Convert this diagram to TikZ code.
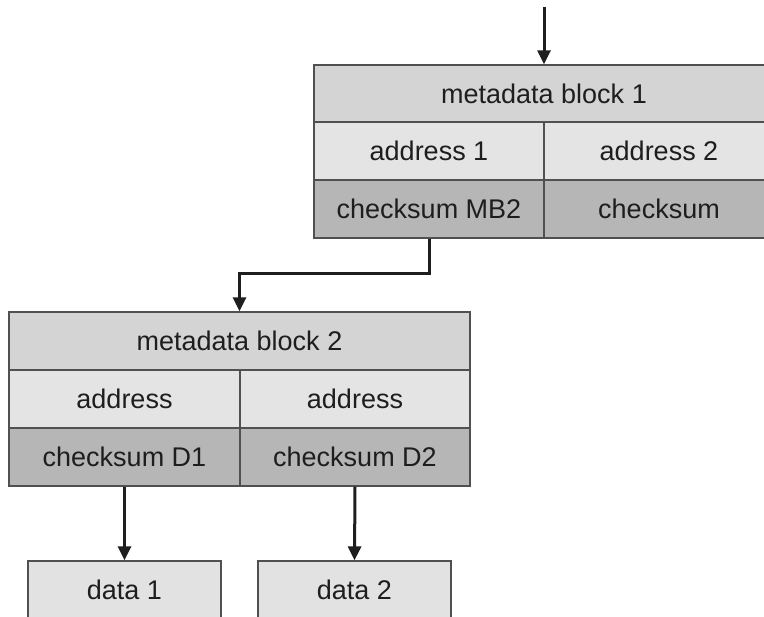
\documentclass[tikz,border=0pt]{standalone}
\usepackage{fontspec}
\setmainfont{Liberation Sans}
\usetikzlibrary{arrows.meta}
\definecolor{hdr}{HTML}{D4D4D4}
\definecolor{adr}{HTML}{E4E4E4}
\definecolor{chk}{HTML}{B6B6B6}
\definecolor{dat}{HTML}{E2E2E2}
\definecolor{edge}{HTML}{505050}
\definecolor{ink}{HTML}{1E1E1E}
\tikzset{
  cell/.style={draw=edge, line width=1.3pt, inner sep=0pt, text=ink,
    font=\fontsize{27}{32}\selectfont, anchor=center},
  hdrcell/.style={cell, fill=hdr},
  adrcell/.style={cell, fill=adr},
  chkcell/.style={cell, fill=chk},
  datcell/.style={cell, fill=dat},
  conn/.style={draw=ink, line width=3pt, -{Triangle[length=14pt,width=13pt]}},
}
\begin{document}
\begin{tikzpicture}[x=1pt, y=-1pt]
\useasboundingbox (0,0) rectangle (764,617);
% metadata block 1
\node[hdrcell, minimum width=460pt, minimum height=57pt] (b1h) at (544,93.5) {metadata block 1};
\node[adrcell, minimum width=230pt, minimum height=58pt] (b1a1) at (429,151) {address 1};
\node[adrcell, minimum width=230pt, minimum height=58pt] (b1a2) at (659,151) {address 2};
\node[chkcell, minimum width=230pt, minimum height=58pt] (b1c1) at (429,209) {checksum MB2};
\node[chkcell, minimum width=230pt, minimum height=58pt] (b1c2) at (659,209) {checksum};
% metadata block 2
\node[hdrcell, minimum width=461pt, minimum height=58pt] (b2h) at (239.5,341) {metadata block 2};
\node[adrcell, minimum width=231pt, minimum height=58pt] (b2a1) at (124.5,399) {address};
\node[adrcell, minimum width=230pt, minimum height=58pt] (b2a2) at (355,399) {address};
\node[chkcell, minimum width=231pt, minimum height=58pt] (b2c1) at (124.5,457) {checksum D1};
\node[chkcell, minimum width=230pt, minimum height=58pt] (b2c2) at (355,457) {checksum D2};
% data blocks
\node[datcell, minimum width=193pt, minimum height=58pt] (d1) at (124.5,590) {data 1};
\node[datcell, minimum width=193pt, minimum height=58pt] (d2) at (354.5,590) {data 2};
% connectors
\coordinate (top) at (544,7);
\coordinate (bend) at (429,274);
\draw[conn] (top) -- (b1h.north);
\draw[conn] (b1c1.south) -- (bend) -| (b2h.north);
\draw[conn] (b2c1.south) -- (d1.north);
\draw[conn] (b2c2.south) -- (d2.north);
\end{tikzpicture}
\end{document}
